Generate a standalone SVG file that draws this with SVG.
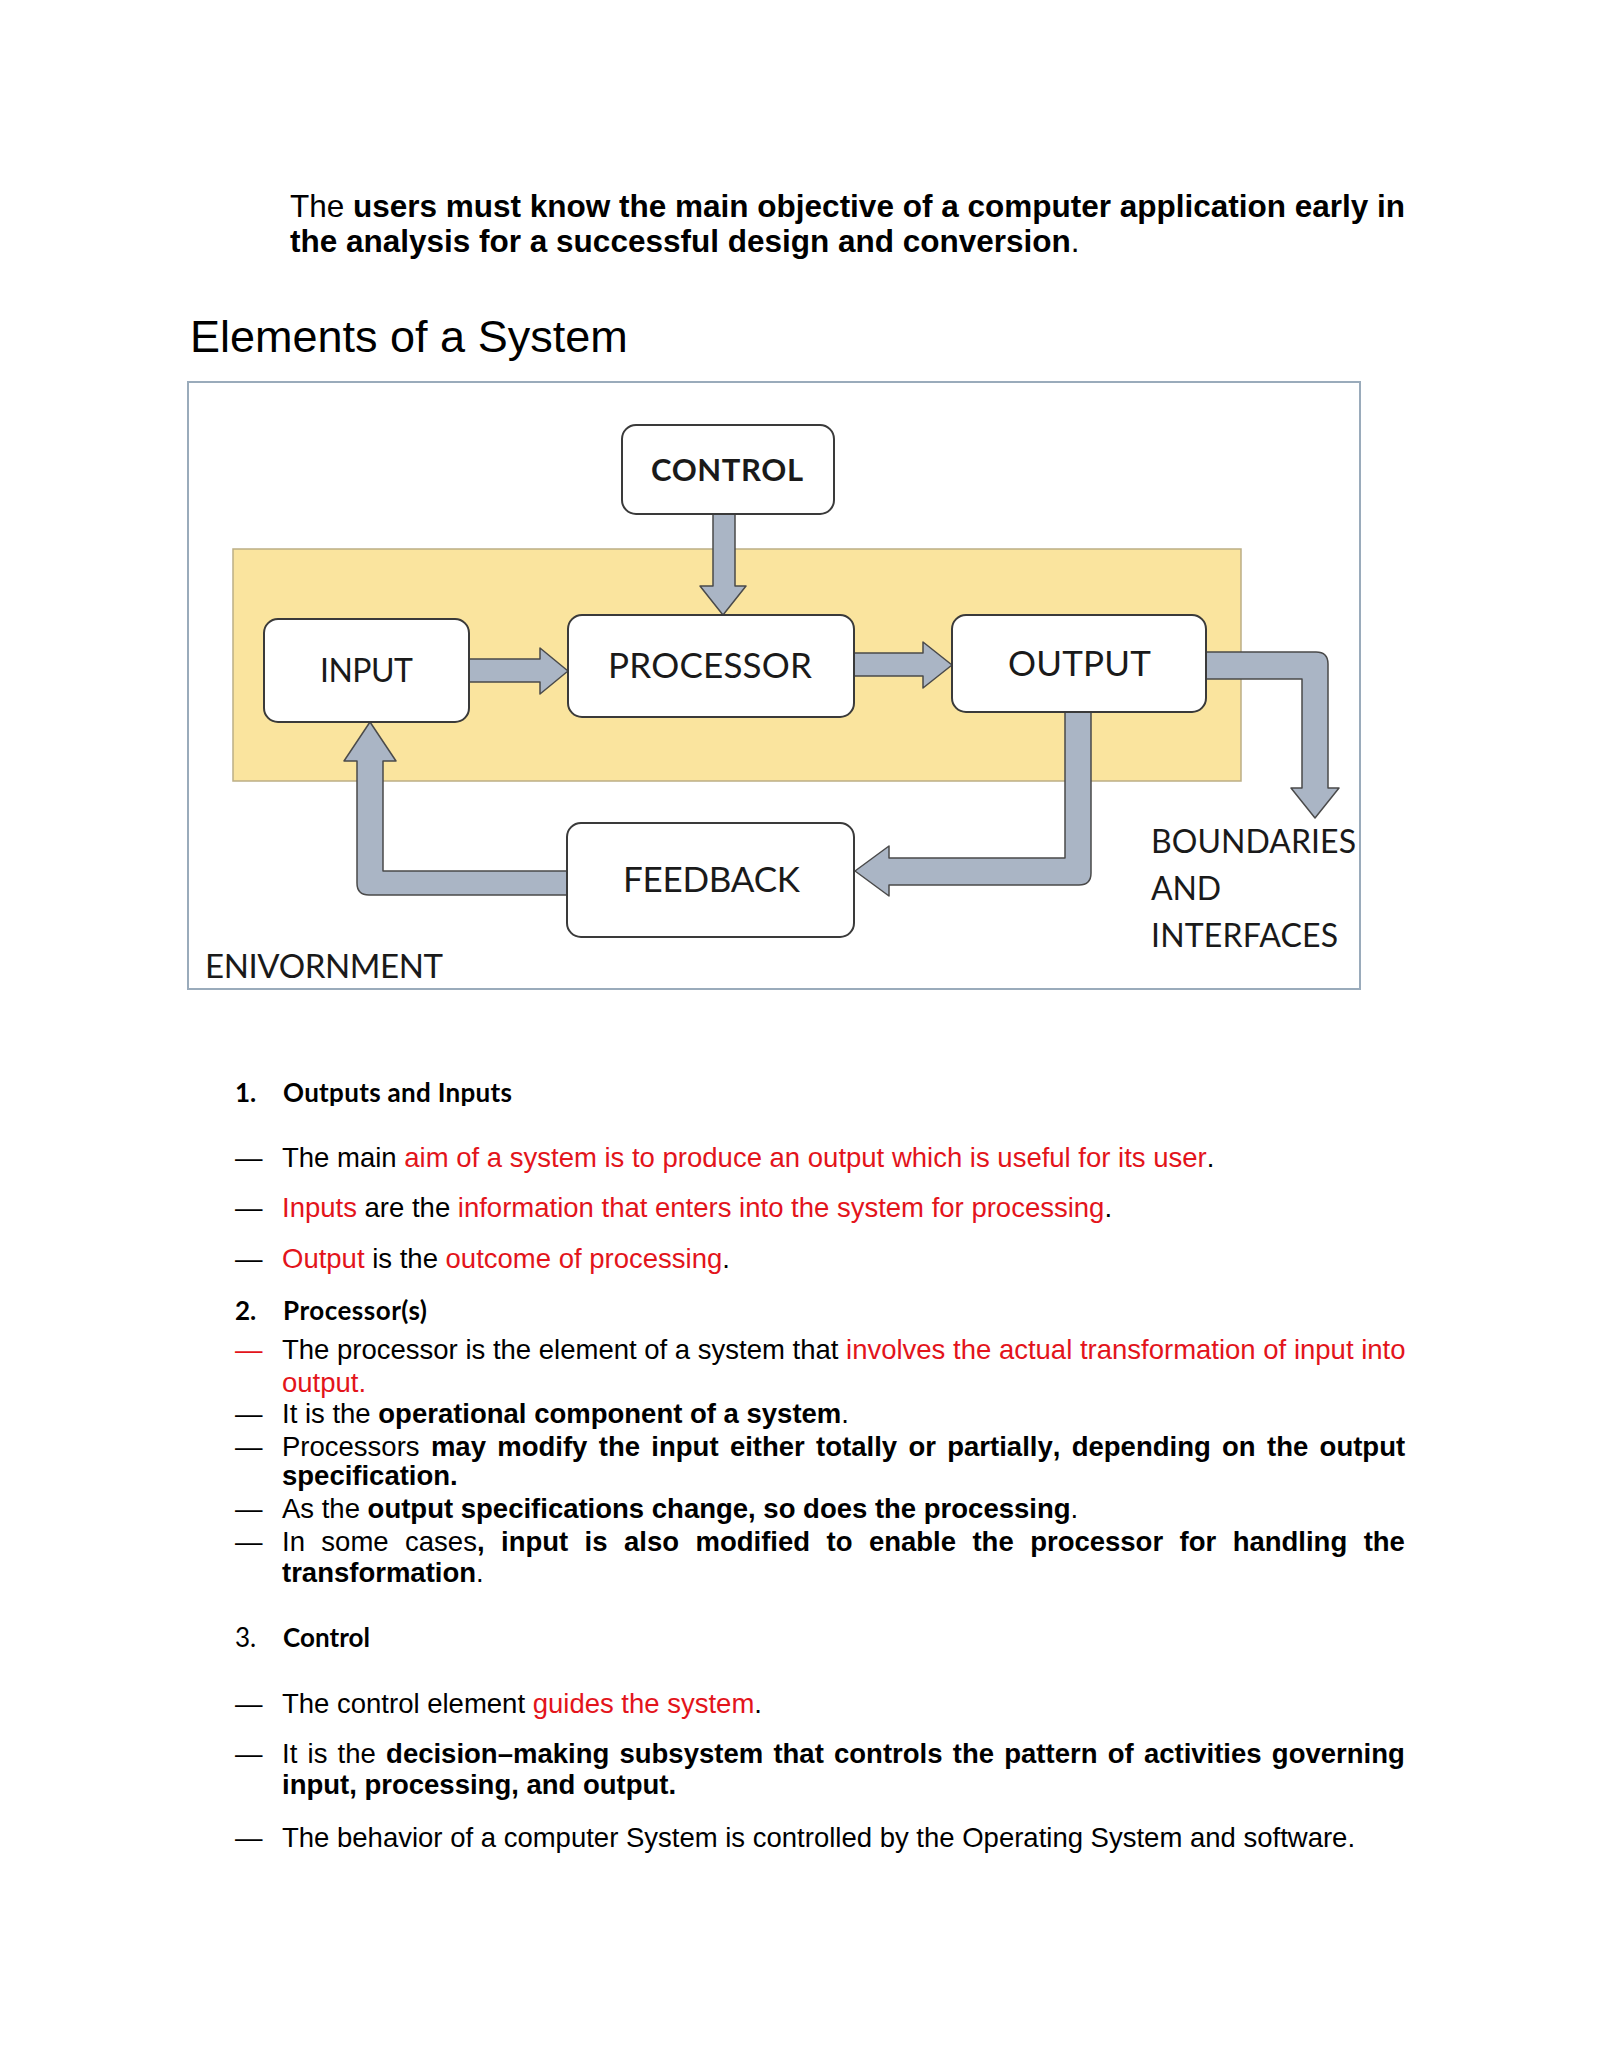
<svg xmlns="http://www.w3.org/2000/svg" width="1600" height="2070" viewBox="0 0 1600 2070">
<style>
  .body{font-family:"Liberation Sans",Arial,sans-serif;font-size:27.5px;fill:#000;font-kerning:none}
  .top{font-family:"Liberation Sans",Arial,sans-serif;font-size:31.5px;fill:#000;font-kerning:none}
  .title{font-family:"Liberation Sans",Arial,sans-serif;font-size:45px;fill:#000}
  .b{font-weight:bold}
  .r{fill:#e3141b}
  .head{font-family:Lato,"Open Sans",sans-serif;font-size:26px;fill:#000}
  .lbl{font-family:Lato,"Open Sans",sans-serif;fill:#1a1a1a}
  .box{fill:#fff;stroke:#3a3a3a;stroke-width:2}
  .arrow{fill:#aab5c5;stroke:#4a4a4a;stroke-width:1.5;stroke-linejoin:round}
</style>
<rect width="1600" height="2070" fill="#fff"/>

<text class="top" x="290" y="217" textLength="1115" lengthAdjust="spacing">The <tspan class="b">users must know the main objective of a computer application early in</tspan></text>
<text class="top" x="290" y="252"><tspan class="b">the analysis for a successful design and conversion</tspan>.</text>

<text class="title" x="190" y="352">Elements of a System</text>

<g id="diagram">
  <rect id="environment" x="188" y="382" width="1172" height="607" fill="#fff" stroke="#9aabbb" stroke-width="2"/>
  <rect id="system" x="233" y="549" width="1008" height="232" fill="#fae49e" stroke="#bcae85" stroke-width="1.5"/>

  <g id="connectors">
    <path class="arrow" d="M713,514 L735,514 L735,586 L746,586 L723,615 L700,586 L713,586 Z"/>
    <path class="arrow" d="M469,659 L540,659 L540,648 L568,671 L540,694 L540,682 L469,682 Z"/>
    <path class="arrow" d="M854,653 L923,653 L923,642 L952,665 L923,688 L923,676 L854,676 Z"/>
    <path class="arrow" d="M1206,652 L1316,652 Q1328,652 1328,664 L1328,788 L1339,788 L1315,818 L1291,788 L1302,788 L1302,679 L1206,679 Z"/>
    <path class="arrow" d="M1065,712 L1091,712 L1091,873 Q1091,885 1079,885 L889,885 L889,896 L855,871 L889,846 L889,858 L1065,858 Z"/>
    <path class="arrow" d="M567,871 L383,871 L383,761 L396,761 L370,722 L344,761 L357,761 L357,883 Q357,895 369,895 L567,895 Z"/>
  </g>

  <g id="control">
    <rect class="box" x="622" y="425" width="212" height="89" rx="14"/>
    <text class="lbl" x="651" y="481" font-size="31" font-weight="bold" textLength="152" lengthAdjust="spacing">CONTROL</text>
  </g>
  <g id="input">
    <rect class="box" x="264" y="619" width="205" height="103" rx="14"/>
    <text class="lbl" x="320" y="682" font-size="32" textLength="93" lengthAdjust="spacing">INPUT</text>
  </g>
  <g id="processor">
    <rect class="box" x="568" y="615" width="286" height="102" rx="14"/>
    <text class="lbl" x="608" y="678" font-size="35" textLength="204" lengthAdjust="spacing">PROCESSOR</text>
  </g>
  <g id="output">
    <rect class="box" x="952" y="615" width="254" height="97" rx="14"/>
    <text class="lbl" x="1008" y="676" font-size="35" textLength="143" lengthAdjust="spacing">OUTPUT</text>
  </g>
  <g id="feedback">
    <rect class="box" x="567" y="823" width="287" height="114" rx="14"/>
    <text class="lbl" x="623" y="892" font-size="35" textLength="177" lengthAdjust="spacing">FEEDBACK</text>
  </g>
  <g id="labels">
    <text class="lbl" x="205" y="978" font-size="33" textLength="238" lengthAdjust="spacing">ENIVORNMENT</text>
    <text class="lbl" x="1151" y="853" font-size="32" textLength="205" lengthAdjust="spacing">BOUNDARIES</text>
    <text class="lbl" x="1151" y="900" font-size="32" textLength="70" lengthAdjust="spacing">AND</text>
    <text class="lbl" x="1151" y="947" font-size="32" textLength="187" lengthAdjust="spacing">INTERFACES</text>
  </g>
</g>

<g id="list">
  <text class="head" x="235" y="1102" font-weight="bold">1.</text>
  <text class="head" x="283" y="1102" font-weight="bold" textLength="229" lengthAdjust="spacing">Outputs and Inputs</text>

  <text class="body" x="235" y="1167">—</text>
  <text class="body" x="282" y="1167">The main <tspan class="r">aim of a system is to produce an output which is useful for its user</tspan>.</text>
  <text class="body" x="235" y="1217">—</text>
  <text class="body" x="282" y="1217"><tspan class="r">Inputs</tspan> are the <tspan class="r">information that enters into the system for processing</tspan>.</text>
  <text class="body" x="235" y="1268">—</text>
  <text class="body" x="282" y="1268"><tspan class="r">Output</tspan> is the <tspan class="r">outcome of processing</tspan>.</text>

  <text class="head" x="235" y="1320" font-weight="bold">2.</text>
  <text class="head" x="283" y="1320" font-weight="bold" textLength="144" lengthAdjust="spacing">Processor(s)</text>

  <text class="body r" x="235" y="1359">—</text>
  <text class="body" x="282" y="1359">The processor is the element of a system that <tspan class="r">involves the actual transformation of input into</tspan></text>
  <text class="body r" x="282" y="1392">output.</text>
  <text class="body" x="235" y="1423">—</text>
  <text class="body" x="282" y="1423">It is the <tspan class="b">operational component of a system</tspan>.</text>
  <text class="body" x="235" y="1456">—</text>
  <text class="body" x="282" y="1456" word-spacing="3.7">Processors <tspan class="b">may modify the input either totally or partially, depending on the output</tspan></text>
  <text class="body b" x="282" y="1485">specification.</text>
  <text class="body" x="235" y="1518">—</text>
  <text class="body" x="282" y="1518">As the <tspan class="b">output specifications change, so does the processing</tspan>.</text>
  <text class="body" x="235" y="1551">—</text>
  <text class="body" x="282" y="1551" word-spacing="8.8">In some cases<tspan class="b">, input is also modified to enable the processor for handling the</tspan></text>
  <text class="body" x="282" y="1582"><tspan class="b">transformation</tspan>.</text>

  <text class="head" x="235" y="1647">3.</text>
  <text class="head" x="283" y="1647" font-weight="bold" textLength="87" lengthAdjust="spacing">Control</text>

  <text class="body" x="235" y="1713">—</text>
  <text class="body" x="282" y="1713">The control element <tspan class="r">guides the system</tspan>.</text>
  <text class="body" x="235" y="1763">—</text>
  <text class="body" x="282" y="1763" word-spacing="2.6">It is the <tspan class="b">decision–making subsystem that controls the pattern of activities governing</tspan></text>
  <text class="body b" x="282" y="1794">input, processing, and output.</text>
  <text class="body" x="235" y="1847">—</text>
  <text class="body" x="282" y="1847">The behavior of a computer System is controlled by the Operating System and software.</text>
</g>
</svg>
